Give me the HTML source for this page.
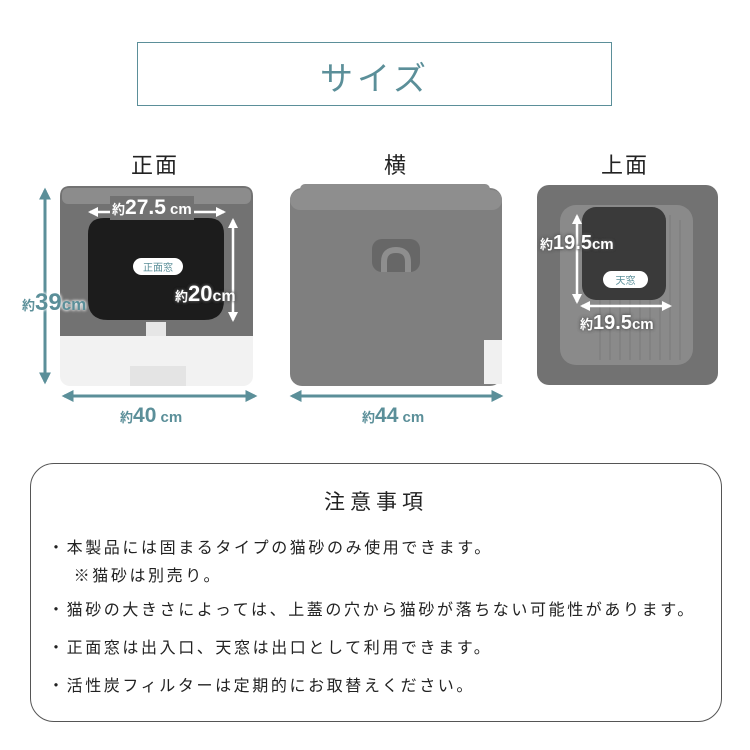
<!DOCTYPE html>
<html><head><meta charset="utf-8"><style>
body{margin:0;width:750px;height:750px;background:#fff;position:relative;overflow:hidden;font-family:"Liberation Sans","Noto Sans CJK JP",sans-serif;}
.a{position:absolute;white-space:nowrap}
.t{color:#5b8f99;font-weight:bold}
.n{font-size:16px;color:#222;letter-spacing:2.6px;line-height:28px}
</style></head><body>
<div class="a" style="left:137px;top:42px;width:473px;height:62px;border:1.5px solid #5b8f99;"></div>
<div class="a" style="left:137px;top:52px;width:476px;text-align:center;font-size:33px;color:#5b8f99;letter-spacing:4px">サイズ</div>
<div class="a" style="left:125px;top:148px;width:60px;text-align:center;font-size:22px;color:#222;letter-spacing:2px">正面</div>
<div class="a" style="left:365px;top:148px;width:60px;text-align:center;font-size:22px;color:#222">横</div>
<div class="a" style="left:595px;top:148px;width:60px;text-align:center;font-size:22px;color:#222;letter-spacing:2px">上面</div>

<svg class="a" style="left:0;top:0" width="750" height="460">
<defs>
<marker id="m" viewBox="0 0 10 10" refX="8" refY="5" markerWidth="4" markerHeight="4" orient="auto-start-reverse"><path d="M0,0L10,5L0,10z" fill="#5b8f99"/></marker>
<marker id="w" viewBox="0 0 10 10" refX="8" refY="5" markerWidth="4" markerHeight="4" orient="auto-start-reverse"><path d="M0,0L10,5L0,10z" fill="#fff"/></marker>
</defs>
<!-- front -->
<rect x="60" y="186" width="193" height="200" rx="10" fill="#f2f2f2"/>
<path d="M60,196 Q60,186 70,186 L243,186 Q253,186 253,196 L253,336 L60,336z" fill="#727272"/>
<rect x="62" y="188" width="189" height="16" rx="6" fill="#8c8c8c"/>
<path d="M104,218 L208,218 Q224,218 224,234 L224,300 Q224,320 204,320 L108,320 Q88,320 88,300 L88,234 Q88,218 104,218z" fill="#1c1c1c"/>
<rect x="146" y="322" width="20" height="14" fill="#e6e6e6"/>
<rect x="130" y="366" width="56" height="20" fill="#e4e4e4"/>
<line x1="45" y1="190" x2="45" y2="382" stroke="#5b8f99" stroke-width="3" marker-start="url(#m)" marker-end="url(#m)"/>
<line x1="64" y1="396" x2="255" y2="396" stroke="#5b8f99" stroke-width="3" marker-start="url(#m)" marker-end="url(#m)"/>
<line x1="90" y1="212" x2="224" y2="212" stroke="#fff" stroke-width="2.5" marker-start="url(#w)" marker-end="url(#w)"/>
<line x1="233" y1="220" x2="233" y2="320" stroke="#fff" stroke-width="2.5" marker-start="url(#w)" marker-end="url(#w)"/>
<rect x="133" y="258" width="50" height="17" rx="8.5" fill="#fff"/>
<!-- side -->
<rect x="290" y="188" width="212" height="198" rx="12" fill="#7f7f7f"/>
<rect x="300" y="184" width="190" height="12" rx="5" fill="#8e8e8e"/>
<rect x="290" y="190" width="212" height="20" rx="10" fill="#8e8e8e"/>
<rect x="484" y="340" width="18" height="44" fill="#f0f0f0"/>
<rect x="372" y="239" width="48" height="33" rx="10" fill="#676767"/>
<path d="M384,272 L384,262 Q384,250 396,250 Q408,250 408,262 L408,272" fill="none" stroke="#8e8e8e" stroke-width="6"/>
<line x1="292" y1="396" x2="501" y2="396" stroke="#5b8f99" stroke-width="3" marker-start="url(#m)" marker-end="url(#m)"/>
<!-- top -->
<rect x="537" y="185" width="181" height="200" rx="12" fill="#727272"/>
<rect x="560" y="205" width="133" height="160" rx="16" fill="#8a8a8a"/>
<g stroke="#7a7a7a" stroke-width="1">
<line x1="600" y1="300" x2="600" y2="360"/><line x1="610" y1="300" x2="610" y2="360"/><line x1="620" y1="300" x2="620" y2="360"/><line x1="630" y1="300" x2="630" y2="360"/><line x1="640" y1="300" x2="640" y2="360"/><line x1="650" y1="300" x2="650" y2="360"/><line x1="660" y1="300" x2="660" y2="360"/><line x1="670" y1="215" x2="670" y2="360"/><line x1="680" y1="220" x2="680" y2="360"/>
</g>
<rect x="582" y="207" width="84" height="93" rx="14" fill="#3a3a3a"/>
<line x1="577" y1="216" x2="577" y2="302" stroke="#fff" stroke-width="2.5" marker-start="url(#w)" marker-end="url(#w)"/>
<line x1="582" y1="306" x2="670" y2="306" stroke="#fff" stroke-width="2.5" marker-start="url(#w)" marker-end="url(#w)"/>
<rect x="603" y="271" width="45" height="17" rx="8.5" fill="#fff"/>
</svg>

<div class="a t" style="left:22px;top:289px;font-size:24px;text-shadow:0 0 3px #fff,0 0 3px #fff"><span style="font-size:13px">約</span>39<span style="font-size:17px">cm</span></div>
<div class="a t" style="left:120px;top:404px;font-size:21px"><span style="font-size:13px">約</span>40<span style="font-size:15px"> cm</span></div>
<div class="a t" style="left:362px;top:404px;font-size:21px"><span style="font-size:13px">約</span>44<span style="font-size:15px"> cm</span></div>
<div class="a" style="left:110px;top:196px;font-size:21px;color:#fff;font-weight:bold;background:#727272;padding:0 2px"><span style="font-size:13px">約</span>27.5<span style="font-size:15px"> cm</span></div>
<div class="a" style="left:175px;top:281px;font-size:22px;color:#fff;font-weight:bold;text-shadow:0 0 3px #555,0 0 3px #555"><span style="font-size:13px">約</span>20<span style="font-size:16px">cm</span></div>
<div class="a" style="left:133px;top:259px;width:50px;text-align:center;font-size:10px;color:#5b8f99">正面窓</div>
<div class="a" style="left:540px;top:232px;font-size:20px;color:#fff;font-weight:bold;text-shadow:0 0 3px #555,0 0 3px #555"><span style="font-size:13px">約</span>19.5<span style="font-size:15px">cm</span></div>
<div class="a" style="left:580px;top:312px;font-size:20px;color:#fff;font-weight:bold;text-shadow:0 0 3px #555,0 0 3px #555"><span style="font-size:13px">約</span>19.5<span style="font-size:15px">cm</span></div>
<div class="a" style="left:603px;top:272px;width:45px;text-align:center;font-size:10px;color:#5b8f99">天窓</div>

<div class="a" style="left:30px;top:463px;width:690px;height:257px;border:1.5px solid #555;border-radius:24px"></div>
<div class="a" style="left:30px;top:486px;width:692px;text-align:center;font-size:21px;color:#222;letter-spacing:5px">注意事項</div>
<div class="a n" style="left:48px;top:535px">・本製品には固まるタイプの猫砂のみ使用できます。<br>　 ※猫砂は別売り。</div>
<div class="a n" style="left:48px;top:597px">・猫砂の大きさによっては、上蓋の穴から猫砂が落ちない可能性があります。</div>
<div class="a n" style="left:48px;top:635px">・正面窓は出入口、天窓は出口として利用できます。</div>
<div class="a n" style="left:48px;top:673px">・活性炭フィルターは定期的にお取替えください。</div>
</body></html>
